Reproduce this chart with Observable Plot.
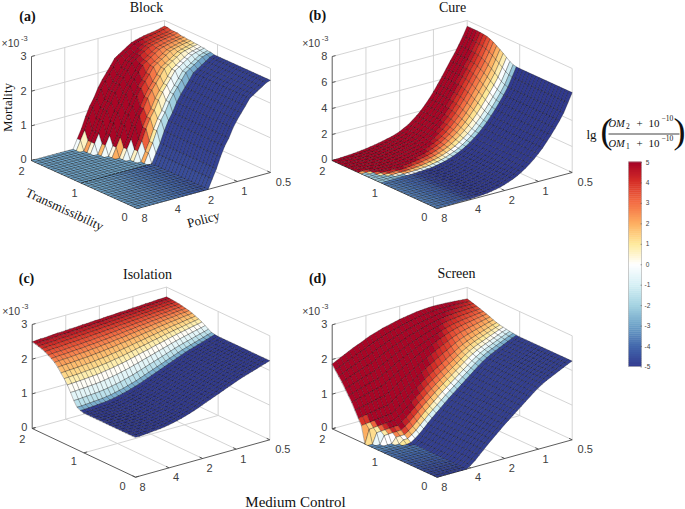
<!DOCTYPE html>
<html><head><meta charset="utf-8">
<script src="https://cdn.jsdelivr.net/npm/d3@7"></script>
<script src="https://cdn.jsdelivr.net/npm/@observablehq/plot@0.6"></script>
<style>html,body{margin:0;padding:0;background:#fff;overflow:hidden}svg{display:block}</style>
</head><body><div id="chart"></div>
<script>
// ---------- values ----------
const policyTicks = ["8","4","2","1","0.5"];
const transTicks = ["0","1","2"];
const colorLevels = [-5,-4,-3,-2,-1,0,1,2,3,4,5];
const colorRange = ["#313a8f","#4469ad","#6ea3c8","#a6d4e2","#d6f0f5","#ffffff","#fee999","#fdae61","#f46d43","#d73027","#a50026"];
const bandLevels = [-4.6,-2.2,-1,0,.9,1.5,2.1,2.7,3.2,3.7,4.1,4.5,4.9];

// Block (a)
const riseA = [0,.27,.53,.85,1.12,1.32,1.58,1.78,1.95,2.12,2.3,2.38,2.46,2.54,2.62,2.66,2.69,2.72,2.74,2.76,2.78,2.81,2.84,2.88];
const onsetA = [17,17,17,17,17,17,17,17,17,17,17,17,17,17,17,17,17,17,16,16,15,15,14,14,13,13,12,12,11,11,11,10,10];
const widthA = [4.5,4.5,4.5,4.5,4.5,4.5,4.5,4.5,4.5,4.5,4.5,4.5,4.5,4.5,4.5,4.5,4.5,4.5,6,7.5,9,10,11.5,13,14,15,16,16.5,17,17.5,18,19,19.5];
const lowA = [-3.2,-3.25,-3.3,-3.35,-3.4,-3.45,-3.5,-3.6,-3.7,-3.8,-3.9,-4,-4.1,-4.2,-4.3,-4.4,-4.5,-4.6,-4.7,-4.8,-4.85,-4.9,-4.9,-4.9,-4.9,-4.9,-4.9,-4.9,-4.9,-4.9,-4.9,-4.9,-4.9];
const startA = Array(33).fill(17);
const shelfA = Array(33).fill(-3);
const spikesA = [-.3,2,-.5,.6,-.5,.5,2,.3,-.3,1.8,-.4,.4,2.2,.6,-.3,1.8];
const lowRowA = [0,.02,.04,.06,.08,.1,.12,.14,.16,.18,.2,.22,.24,.26,.28,.3,.32];

// Cure (b)
const zLowB = [.02,.02,.02,.03,.03,.04,.05,.05,.06,.08,.1,.13,.16,.22,.28,.36,.46,.58,.72,.88,1.08,1.3,1.55,1.83,2.15,2.5,2.9,3.32,3.77,4.25,4.77,5.45,6.15];
const zHighB = [0,.02,.04,.06,.08,.11,.14,.18,.22,.27,.33,.39,.46,.54,.62,.72,.85,1.02,1.2,1.45,1.72,2.02,2.38,2.78,3.22,3.7,4.2,4.72,5.25,5.75,6.3,6.9,7.56];
const blendB = [0,0,0,0,0,0,0,0,0,0,0,0,0,0,0,0,0,.01,.05,.14,.28,.42,.55,.67,.79,.87,.94,.97,.99,1,1,1,1];
const startB = [23,22,20,19,18,18,17,17,17,17,17,17,17,17,17,17,17,17,17,17,17,17,17,17,17,17,17,17,17,17,17,17,17];
const widthB = [2,2.5,3,3,3.5,3.5,4,4,4.5,4.5,5,5,5.5,5.5,6,6.5,7,7.5,8,8.5,9,9.5,10,10.5,11,11,11.5,11.5,12,12,12.5,12.5,13];
const lowB = [-3.6,-3.7,-3.8,-3.9,-4.1,-4.2,-4.3,-4.6,-4.8,-4.9,-5,-5,-5,-5,-5,-5,-5,-5,-5,-5,-5,-5,-5,-5,-5,-5,-5,-5,-5,-5,-5,-5,-5];
const shelfB = [-2.2,-2.3,-2.4,-2.5,-2.7,-2.8,-3,-3,-3,-3,-3,-3,-3,-3,-3,-3,-3,-3,-3,-3,-3,-3,-3,-3,-3,-3,-3,-3,-3,-3,-3,-3,-3];

// Isolation (c)
const zLowC = [1.15,1.15,1.16,1.17,1.18,1.19,1.2,1.22,1.24,1.27,1.3,1.33,1.37,1.41,1.45,1.5,1.55,1.6,1.65,1.7,1.75,1.8,1.85,1.9,1.95,2,2.04,2.08,2.12,2.16,2.2,2.24,2.28];
const zHighC = [2.5,2.51,2.52,2.52,2.53,2.54,2.55,2.55,2.56,2.57,2.57,2.58,2.59,2.59,2.6,2.61,2.61,2.62,2.63,2.63,2.64,2.65,2.65,2.66,2.67,2.67,2.68,2.69,2.69,2.7,2.71,2.71,2.72];
const blendC = [0,0,0,0,0,0,0,0,0,0,0,0,0,0,0,0,0,.02,.06,.17,.31,.44,.54,.63,.72,.79,.84,.88,.92,.95,.97,.99,1];
const startC = Array(33).fill(17);
const widthC = Array(33).fill(15.5);
const lowC = Array(33).fill(-5);

// Screen (d)
const zLowD = [0,0,0,0,0,0,0,0,.08,.18,.3,.42,.54,.65,.76,.87,.98,1.08,1.18,1.28,1.38,1.48,1.58,1.68,1.77,1.85,1.92,1.98,2.04,2.1,2.16,2.22,2.27];
const zHighD = [1.87,1.93,1.99,2.05,2.11,2.17,2.22,2.27,2.33,2.38,2.42,2.46,2.5,2.53,2.56,2.59,2.62,2.64,2.66,2.68,2.7,2.71,2.72,2.73,2.73,2.73,2.72,2.72,2.71,2.7,2.69,2.68,2.67];
const blendD = [0,0,0,0,0,0,0,0,0,0,0,0,0,0,0,0,0,.01,.04,.07,.11,.15,.2,.26,.35,.45,.55,.63,.71,.79,.86,.93,1];
const onsetD = [7,7,7,7,7,7,7,7,7,7,7,7,7,7,7,7,7,7,6,5,3,2,1,0,0,0,0,0,0,0,0,0,0];
const startD = [22,22,21,20,19,18,18,17,17,17,17,17,17,17,17,17,17,17,17,17,17,17,17,17,17,17,17,17,17,17,17,17,17];
const widthD = [2.5,2.5,3,3,3.5,3.5,4,4,4.5,4.8,5,5.5,6,6.5,7,7.5,8,8.5,9,9.5,10,10.5,11.5,12.5,13,13.5,14,14.5,15,15.5,16,17,18];
const lowD = Array(33).fill(-4.9);
const shelfD = Array(33).fill(-3.4);
const spikesD = [1,.5,0,-.5,1.2,2,.8,.4];
const lowRowD = [0,.08,.15,.22,.3,.38,.45,.52,.6,.68,.75,.82,.9,.98,1.05,1.12,1.2];

// ---------- layout of each 3-D box (floor corners of the box and its axis height) ----------
const panels = [
 {tag:"(a)",title:"Block",tagAt:[27,16],titleAt:[146,7],L:[31,160],F:[137,208],R:[270,172],h:104,zMax:3,zTicks:[0,1,2,3],
  rise:riseA,onset:onsetA,start:startA,width:widthA,low:lowA,shelf:shelfA,spikes:spikesA,lowRow:lowRowA,seam:true},
 {tag:"(b)",title:"Cure",tagAt:[317,15],titleAt:[452,7],L:[331.7,160],F:[436.7,208],R:[571.7,172],h:104,zMax:8,zTicks:[0,2,4,6,8],
  zLow:zLowB,zHigh:zHighB,blend:blendB,start:startB,width:widthB,low:lowB,shelf:shelfB},
 {tag:"(c)",title:"Isolation",tagAt:[26,278],titleAt:[147,274],L:[31.7,428],F:[135,476.7],R:[269.3,439.3],h:104,zMax:3,zTicks:[0,1,2,3],
  zLow:zLowC,zHigh:zHighC,blend:blendC,start:startC,width:widthC,low:lowC,shelf:lowC},
 {tag:"(d)",title:"Screen",tagAt:[317,278],titleAt:[456,273],L:[331.7,428.3],F:[436.7,476.7],R:[571.7,439.3],h:104,zMax:3,zTicks:[0,1,2,3],
  zLow:zLowD,zHigh:zHighD,blend:blendD,onset:onsetD,start:startD,width:widthD,low:lowD,shelf:shelfD,spikes:spikesD,lowRow:lowRowD}
];
const nT = 32, nP = 32, mid = 17;

function projector(p){
  return (u,v,z=0)=>[
    p.F[0]+u*(p.R[0]-p.F[0])+v*(p.L[0]-p.F[0]),
    p.F[1]+u*(p.R[1]-p.F[1])+v*(p.L[1]-p.F[1])-z/p.zMax*p.h
  ];
}
function zAt(p,i,j){
  const on = p.onset ? p.onset[i] : 0;
  if (j<on) return 0;
  if (p.rise) return p.rise[Math.min(j-on,p.rise.length-1)];
  return p.zLow[j]+p.blend[i]*(p.zHigh[j]-p.zLow[j]);
}
const bandAt=d3.scaleLinear(d3.range(13).map(k=>k/12),bandLevels).clamp(true);
function colourAt(p,i,j,zs){
  const raised = zs.filter(z=>z>0).length;
  const hasOnset = !!p.onset;
  if (hasOnset && raised===0) return i>=mid ? p.shelf[j] : p.low[j]+(p.lowRow?p.lowRow[i]:0);
  if (hasOnset && raised<4 && i>=mid && p.spikes) return p.spikes[(i-mid)%p.spikes.length];
  const t=(i+1-p.start[j])/p.width[j];
  if (t<=0) return i>=mid ? p.shelf[j] : p.low[j];
  return bandAt(t);
}
const cells=[], gridSegs=[], axisSegs=[], tickLabels=[], seams=[];
for (const p of panels){
  const P=projector(p);
  for (let i=nT-1;i>=0;i--) for (let j=nP-1;j>=0;j--){
    const corners=[[i,j],[i,j+1],[i+1,j+1],[i+1,j]];
    const zs=corners.map(([a,b])=>zAt(p,a,b));
    const ring=corners.map(([a,b],k)=>P(b/nP,a/nT,zs[k]));
    ring.push(ring[0]);
    cells.push({type:"Feature",geometry:{type:"Polygon",coordinates:[ring]},properties:{c:colourAt(p,i,j,zs)}});
  }
  const seg=(arr,a,b)=>arr.push({x1:a[0],y1:a[1],x2:b[0],y2:b[1]});
  // walls and floor
  for (const z of p.zTicks){
    seg(gridSegs,P(0,1,z),P(1,1,z));
    seg(gridSegs,P(1,1,z),P(1,0,z));
  }
  for (const u of [.25,.5,.75]){ seg(gridSegs,P(u,0),P(u,1)); seg(gridSegs,P(u,1),P(u,1,p.zMax)); }
  seg(gridSegs,P(0,.5),P(1,.5)); seg(gridSegs,P(1,.5),P(1,.5,p.zMax));
  seg(gridSegs,P(1,1),P(1,1,p.zMax)); seg(gridSegs,P(1,0),P(1,0,p.zMax));
  // axes
  seg(axisSegs,P(0,1),P(0,1,p.zMax)); seg(axisSegs,P(0,1),P(0,0)); seg(axisSegs,P(0,0),P(1,0));
  policyTicks.forEach((s,k)=>{
    const u=k/4; seg(axisSegs,P(u,0),P(u,.03));
    const q=P(u,0); tickLabels.push({x:q[0]+(k===4?13:7),y:q[1]+10,s});
  });
  transTicks.forEach((s,k)=>{
    const v=k/2; seg(axisSegs,P(0,v),P(.025,v));
    const q=P(0,v); tickLabels.push({x:q[0]-(k===0?13:10),y:q[1]+(k===2?11:9),s});
  });
  p.zTicks.forEach(z=>{
    seg(axisSegs,P(0,1,z),P(.025,1,z));
    const q=P(0,1,z); tickLabels.push({x:q[0]-8,y:q[1]-(z===0?1:0),s:String(z)});
  });
  if (p.seam) seg(seams,P(0,.53),P(17/32,.53));
}
const titles=panels.map(p=>({x:p.titleAt[0],y:p.titleAt[1],s:p.title}));
const tags=panels.map(p=>({x:p.tagAt[0],y:p.tagAt[1],s:p.tag}));
const exps=panels.map(p=>({x:p.L[0]-30,y:p.L[1]-p.h-13,s:"×10"}));
const exps2=panels.map(p=>({x:p.L[0]-10.5,y:p.L[1]-p.h-18,s:"-3"}));

// colour bar
const barX=[628.5,641.5], barY=d3.scaleLinear([-5,5],[366.5,162]);
const barLevels=d3.range(-5,5,0.1);
const barLabels=colorLevels.map(c=>({x:647,y:barY(c),s:String(c),x1:640,x2:641.5}));

const serif="'Liberation Serif',serif", sans="'Liberation Sans',sans-serif";
const txt=(data,o)=>Plot.text(data,{x:"x",y:"y",text:"s",...o});
const mathStart=(s,x,y,size,extra={})=>Plot.text([s],{x:()=>x,y:()=>y,textAnchor:"start",fontFamily:serif,fontSize:size,fill:"#111",...extra});
const plot=Plot.plot({
  width:685,height:509,margin:0,
  x:{domain:[0,685],range:[0,685],axis:null},
  y:{domain:[0,509],range:[0,509],axis:null},
  color:{type:"linear",domain:colorLevels,range:colorRange,clamp:true},
  style:{background:"#fff"},
  marks:[
    Plot.link(gridSegs,{x1:"x1",y1:"y1",x2:"x2",y2:"y2",stroke:"#cfcfcf",strokeWidth:.9}),
    Plot.link(axisSegs,{x1:"x1",y1:"y1",x2:"x2",y2:"y2",stroke:"#4a4a4a",strokeWidth:.9}),
    Plot.geo(cells,{fill:d=>d.properties.c,stroke:"#000",strokeOpacity:.55,strokeWidth:.5}),
    Plot.link(seams,{x1:"x1",y1:"y1",x2:"x2",y2:"y2",stroke:"#111",strokeWidth:.8,strokeDasharray:"3,1",strokeOpacity:.8}),
    txt(tickLabels,{fontFamily:sans,fontSize:11,fill:"#404040"}),
    txt(titles,{fontFamily:serif,fontSize:14,fill:"#111"}),
    txt(tags,{fontFamily:serif,fontSize:14,fontWeight:"bold",fill:"#111"}),
    txt(exps,{fontFamily:sans,fontSize:10.5,fill:"#404040",textAnchor:"start"}),
    txt(exps2,{fontFamily:sans,fontSize:7.5,fill:"#404040",textAnchor:"start"}),
    Plot.text(["Mortality"],{x:()=>7,y:()=>107,rotate:-90,fontFamily:serif,fontSize:13,fill:"#111"}),
    Plot.text(["Transmissibility"],{x:()=>64,y:()=>209,rotate:24.7,fontFamily:serif,fontSize:13,fill:"#111"}),
    Plot.text(["Policy"],{x:()=>203,y:()=>219,rotate:-15,fontFamily:serif,fontSize:13,fill:"#111"}),
    Plot.text(["Medium Control"],{x:()=>295,y:()=>501.5,fontFamily:serif,fontSize:15,fill:"#111"}),
    // colour bar
    Plot.rect(barLevels,{x1:()=>barX[0],x2:()=>barX[1],y1:c=>barY(c),y2:c=>barY(c+0.1)-.4,fill:c=>c+.05}),
    Plot.rect([0],{x1:()=>barX[0],x2:()=>barX[1],y1:()=>barY(-5),y2:()=>barY(5),stroke:"#999",strokeWidth:.5,fill:"none"}),
    Plot.link(barLabels,{x1:"x1",x2:"x2",y1:"y",y2:"y",stroke:"#555",strokeWidth:.5}),
    txt(barLabels,{fontFamily:sans,fontSize:6.5,fill:"#444"}),
    // colour bar title: lg((OM2+1e-10)/(OM1+1e-10))
    Plot.text(["lg"],{x:()=>591,y:()=>134,fontFamily:serif,fontSize:13,fill:"#111"}),
    mathStart("(",600,131,36),
    Plot.text([")"],{x:()=>685,y:()=>131,textAnchor:"end",fontFamily:serif,fontSize:36,fill:"#111"}),
    mathStart("OM",608,123,10.5,{fontStyle:"italic"}),
    mathStart("2",625.5,126,7.5),
    mathStart("+",636,123,11),
    mathStart("10",648,123,11),
    mathStart("−10",661,118,7.5),
    mathStart("OM",608,143,10.5,{fontStyle:"italic"}),
    mathStart("1",625.5,146,7.5),
    mathStart("+",636,143,11),
    mathStart("10",648,143,11),
    mathStart("−10",661,138,7.5),
    Plot.link([0],{x1:()=>608,x2:()=>679,y1:()=>133.5,y2:()=>133.5,stroke:"#111",strokeWidth:.8})
  ]
});
document.getElementById("chart").append(plot);
</script></body></html>
